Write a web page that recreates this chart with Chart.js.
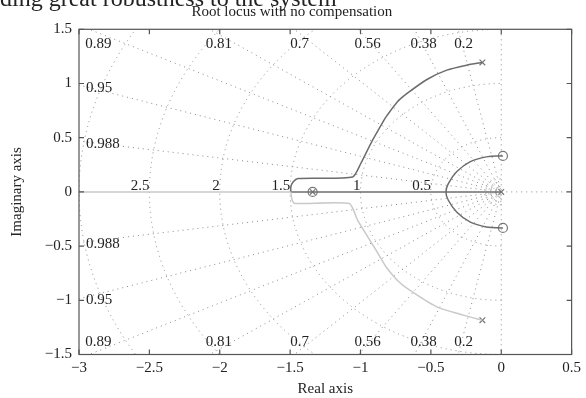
<!DOCTYPE html>
<html>
<head>
<meta charset="utf-8">
<script src="https://cdn.jsdelivr.net/npm/chart.js@4.4.1/dist/chart.umd.min.js"></script>
<style>
  html, body { margin: 0; padding: 0; background: #fff; }
</style>
</head>
<body>
<canvas id="locus" width="586" height="398"></canvas>
<script>
// axis ticks
const xTicks = [-3, -2.5, -2, -1.5, -1, -0.5, 0, 0.5];
const yTicks = [-1.5, -1, -0.5, 0, 0.5, 1, 1.5];

// s-plane grid: damping ratios and natural frequencies
const zetaLines = [0.2, 0.38, 0.56, 0.7, 0.81, 0.89, 0.95, 0.988];
const wnCircles = [0.5, 1, 1.5, 2, 2.5, 3];
const wnLabels = [0.5, 1, 1.5, 2, 2.5];
const wnSmall = [0.03, 0.06, 0.09, 0.12];

// root locus branches
const upperX = [-0.134, -0.246, -0.387, -0.528, -0.669, -0.739, -0.810, -0.833, -0.927, -0.998, -1.056, -1.444, -1.479, -1.495, -1.495];
const upperY = [1.194, 1.169, 1.123, 1.037, 0.908, 0.830, 0.708, 0.661, 0.446, 0.262, 0.138, 0.124, 0.092, 0.046, 0];
const lowerX = [-0.134, -0.270, -0.458, -0.669, -0.739, -0.810, -0.833, -0.904, -1.021, -1.080, -1.467, -1.487, -1.495];
const lowerY = [-1.183, -1.137, -1.061, -0.891, -0.815, -0.707, -0.661, -0.507, -0.261, -0.107, -0.107, -0.070, 0];
const arcX = [0.012, -0.106, -0.223, -0.317, -0.376, -0.393, -0.376, -0.317, -0.223, -0.106, 0.012];
const arcY = [0.332, 0.323, 0.277, 0.185, 0.077, 0, -0.077, -0.185, -0.277, -0.323, -0.332];
const leftRealX = [-3, -1.495];
const rightRealX = [-1.495, 0];

// poles and zeros
const polesX = [-0.134, -0.134, 0, -1.34];
const polesY = [1.194, -1.183, 0, 0];
const zerosX = [0.012, 0.012, -1.34];
const zerosY = [0.332, -0.332, 0];

// the cut-off line of book text above the figure
const pageText = 'ding great robustness to the system';

const serif = '"Liberation Serif", "Times New Roman", serif';
const darkLine = '#6c6c6c';
const lightLine = '#c9c9c9';

function pts(xs, ys) {
  return xs.map((v, i) => ({ x: v, y: ys[i] }));
}
function fmt(v) {
  return String(v).replace('-', '\u2212');
}

const sgrid = {
  id: 'sgrid',
  beforeDatasetsDraw(chart) {
    const { ctx, chartArea: a, scales: { x, y } } = chart;
    const ox = x.getPixelForValue(0), oy = y.getPixelForValue(0);
    const kx = x.getPixelForValue(1) - ox, ky = oy - y.getPixelForValue(1);
    ctx.save();
    ctx.beginPath();
    ctx.rect(a.left, a.top, a.width, a.height);
    ctx.clip();
    ctx.strokeStyle = '#8a8a8a';
    ctx.lineWidth = 1;
    ctx.setLineDash([1, 4]);
    wnCircles.concat(wnSmall).forEach(wn => {
      ctx.beginPath();
      ctx.ellipse(ox, oy, wn * kx, wn * ky, 0, Math.PI / 2, 3 * Math.PI / 2);
      ctx.stroke();
    });
    zetaLines.forEach(z => {
      const s = Math.sqrt(1 - z * z);
      [1, -1].forEach(sg => {
        ctx.beginPath();
        ctx.moveTo(ox, oy);
        ctx.lineTo(x.getPixelForValue(-z * 10), y.getPixelForValue(sg * s * 10));
        ctx.stroke();
      });
    });
    ctx.beginPath();
    ctx.moveTo(ox, a.top);
    ctx.lineTo(ox, a.bottom);
    ctx.moveTo(ox, oy);
    ctx.lineTo(a.right, oy);
    ctx.stroke();

    // labels
    ctx.setLineDash([]);
    ctx.fillStyle = '#222';
    ctx.font = '15px ' + serif;
    ctx.textBaseline = 'middle';
    ctx.textAlign = 'left';
    zetaLines.forEach(z => {
      const s = Math.sqrt(1 - z * z);
      const xEdge = -y.max * z / s;
      if (xEdge >= x.min) {
        const px = x.getPixelForValue(xEdge) - 4;
        ctx.fillText(String(z), px, a.top + 15);
        ctx.fillText(String(z), px, a.bottom - 12);
      } else {
        const yEdge = -x.min * s / z;
        ctx.fillText(String(z), a.left + 7, y.getPixelForValue(yEdge) + 3.5);
        ctx.fillText(String(z), a.left + 7, y.getPixelForValue(-yEdge) + 1.5);
      }
    });
    ctx.textAlign = 'right';
    ctx.textBaseline = 'alphabetic';
    wnLabels.forEach(wn => {
      ctx.fillText(String(wn), x.getPixelForValue(-wn), oy - 2);
    });
    ctx.restore();
  }
};

const frame = {
  id: 'frame',
  afterDatasetsDraw(chart) {
    const { ctx, chartArea: a, scales: { x, y } } = chart;
    ctx.save();
    ctx.strokeStyle = '#555';
    ctx.lineWidth = 1.2;
    ctx.strokeRect(a.left, a.top, a.width, a.height);
    ctx.beginPath();
    xTicks.forEach(v => {
      const px = x.getPixelForValue(v);
      ctx.moveTo(px, a.bottom); ctx.lineTo(px, a.bottom - 5);
      ctx.moveTo(px, a.top); ctx.lineTo(px, a.top + 5);
    });
    yTicks.forEach(v => {
      const py = y.getPixelForValue(v);
      ctx.moveTo(a.left, py); ctx.lineTo(a.left + 5, py);
      ctx.moveTo(a.right, py); ctx.lineTo(a.right - 5, py);
    });
    ctx.stroke();
    ctx.restore();
  },
  afterDraw(chart) {
    const ctx = chart.ctx;
    ctx.save();
    ctx.fillStyle = '#222';
    ctx.font = '24px ' + serif;
    ctx.textAlign = 'left';
    ctx.textBaseline = 'alphabetic';
    ctx.fillText(pageText, 0, 5.5);
    ctx.restore();
  }
};

function branch(xs, ys, color, tension) {
  return {
    data: pts(xs, ys), showLine: true, pointRadius: 0,
    borderColor: color, borderWidth: 1.5, tension: tension || 0
  };
}

new Chart(document.getElementById('locus'), {
  type: 'scatter',
  data: {
    datasets: [
      branch(leftRealX, [0, 0], lightLine),
      branch(lowerX, lowerY, lightLine, 0.2),
      branch(rightRealX, [0, 0], darkLine),
      branch(upperX, upperY, darkLine, 0.2),
      branch(arcX, arcY, darkLine, 0.4),
      {
        data: pts(polesX, polesY), showLine: false, pointStyle: 'crossRot',
        pointRadius: 4, pointBorderColor: '#777', pointBorderWidth: 1.2
      },
      {
        data: pts(zerosX, zerosY), showLine: false, pointStyle: 'circle',
        pointRadius: 4.5, pointBackgroundColor: 'rgba(0,0,0,0)',
        pointBorderColor: '#777', pointBorderWidth: 1.2
      }
    ]
  },
  options: {
    responsive: false,
    animation: false,
    layout: { padding: { left: 8, right: 10.3, top: 0, bottom: 0 } },
    plugins: {
      legend: { display: false },
      tooltip: { enabled: false },
      title: {
        display: true,
        text: 'Root locus with no compensation',
        color: '#222',
        font: { family: serif, size: 15, weight: 'normal' },
        padding: { top: 3, bottom: 8.3 }
      }
    },
    scales: {
      x: {
        type: 'linear', min: -3, max: 0.5,
        afterBuildTicks: s => { s.ticks = xTicks.map(v => ({ value: v })); },
        afterFit: s => { s.height = 43.5; },
        grid: { display: false, drawTicks: false },
        border: { display: false },
        ticks: {
          padding: 5, color: '#222', autoSkip: false, maxRotation: 0,
          font: { family: serif, size: 15 }, callback: fmt
        },
        title: {
          display: true, text: 'Real axis', color: '#222',
          font: { family: serif, size: 15 }, padding: { top: 0, bottom: 0 }
        }
      },
      y: {
        type: 'linear', min: -1.5, max: 1.5,
        afterBuildTicks: s => { s.ticks = yTicks.map(v => ({ value: v })); },
        afterFit: s => { s.width = 71; },
        grid: { display: false, drawTicks: false },
        border: { display: false },
        ticks: {
          padding: 7, color: '#222', autoSkip: false,
          font: { family: serif, size: 15 }, callback: fmt
        },
        title: {
          display: true, text: 'Imaginary axis', color: '#222',
          font: { family: serif, size: 15 }, padding: { top: 0, bottom: 0 }
        }
      }
    }
  },
  plugins: [sgrid, frame]
});
</script>
</body>
</html>
